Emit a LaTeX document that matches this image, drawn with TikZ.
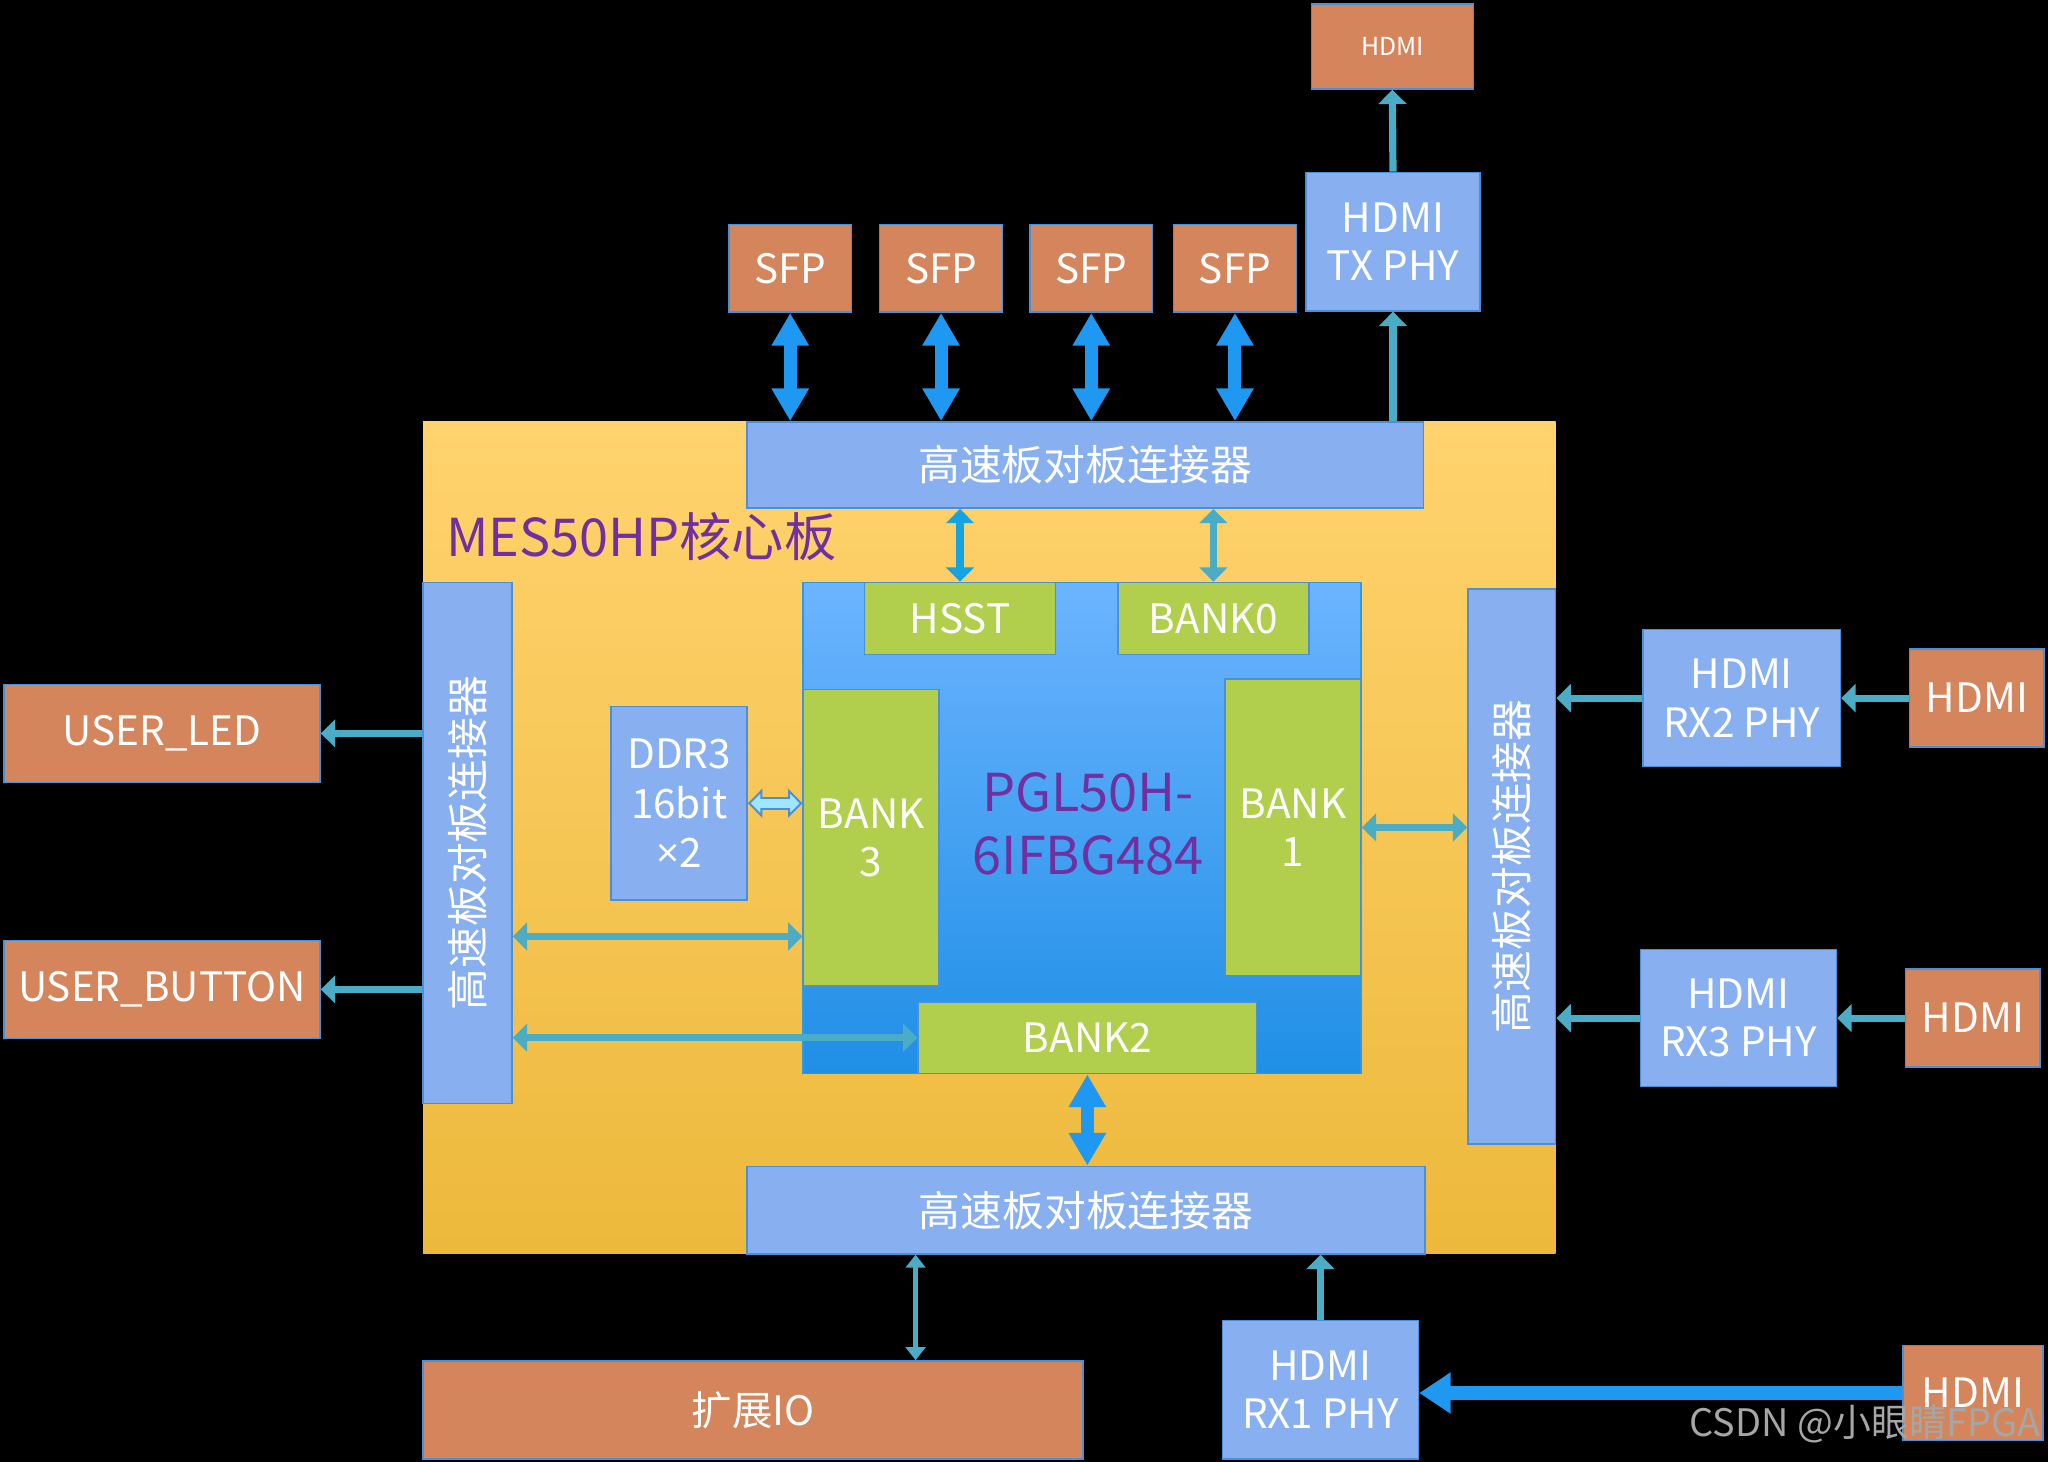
\documentclass[tikz,border=0pt]{standalone}
\usepackage{fontspec}
\setmainfont{Noto Sans CJK SC}
\newfontfamily\symfont{Open Sans}
\usepackage{tikz}
\usetikzlibrary{calc,arrows.meta,positioning}
\definecolor{boxline}{HTML}{4A90D9}
\definecolor{orangex}{HTML}{D4855B}
\definecolor{bluex}{HTML}{88AFF0}
\definecolor{greenx}{HTML}{B1CF4C}
\definecolor{tealx}{HTML}{4BACC6}
\definecolor{deepblue}{HTML}{1E98F0}
\definecolor{hsstblue}{HTML}{14A4E4}
\definecolor{purplex}{HTML}{7030A0}
\definecolor{boardtop}{HTML}{FFD36E}
\definecolor{boardbot}{HTML}{EDB93C}
\definecolor{chiptop}{HTML}{6CB4FF}
\definecolor{chipbot}{HTML}{1F8FE6}
\definecolor{chipline}{HTML}{2E9AE6}
\definecolor{ddrfill}{HTML}{A0E6FF}
\definecolor{markgrey}{HTML}{A6A6A6}
\tikzset{
  blk/.style={draw=boxline,line width=1.2pt,text=white,inner sep=0pt,align=center},
  orng/.style={blk,fill=orangex},
  lblue/.style={blk,fill=bluex},
  bank/.style={blk,fill=greenx},
  lat/.style={font=\fontsize{31}{37}\selectfont},
  han/.style={font=\fontsize{32}{38}\selectfont},
  ar/.style={tealx,line width=5.5pt,-{Triangle[length=11pt,width=21pt]}},
  biar/.style={tealx,line width=5.5pt,{Triangle[length=11pt,width=21pt]}-{Triangle[length=11pt,width=21pt]}},
  thinar/.style={line width=4pt,{Triangle[length=10pt,width=15pt]}-{Triangle[length=10pt,width=15pt]}},
  fatar/.style={deepblue,line width=10pt,{Triangle[length=25pt,width=27pt]}-{Triangle[length=25pt,width=27pt]}},
  rxar/.style={deepblue,line width=11pt,-{Triangle[length=24pt,width=30pt]}}
}
\begin{document}
\begin{tikzpicture}[x=1pt,y=-1pt]
\path[use as bounding box,fill=black] (0,0) rectangle (1568,1119);
% core board
\node[top color=boardtop,bottom color=boardbot,minimum width=867pt,minimum height=637pt,inner sep=0pt] (board) at (757.5,641.5) {};
\node[text=purplex,anchor=west,font=\fontsize{40}{48}\selectfont] (title) at (338,411) {MES50HP核心板};
\node[lblue,han,minimum width=518pt,minimum height=66pt] (contop) at (831,356) {高速板对板连接器};
\node[lblue,han,minimum width=519pt,minimum height=67pt] (conbot) at (831.5,926.5) {高速板对板连接器};
\node[lblue,minimum width=68pt,minimum height=399pt] (conleft) at (358,645.5) {};
\node[lblue,minimum width=67pt,minimum height=425pt] (conright) at (1157.5,663.5) {};
\node[han,text=white,rotate=90] (conlefttxt) at (conleft) {高速板对板连接器};
\node[han,text=white,rotate=90] (conrighttxt) at (conright) {高速板对板连接器};
% FPGA
\node[draw=chipline,line width=1.2pt,top color=chiptop,bottom color=chipbot,minimum width=427pt,minimum height=376pt,inner sep=0pt] (chip) at (828.5,634) {};
\node[bank,lat,minimum width=146pt,minimum height=55pt] (hsst) at (735,473.5) {HSST};
\node[bank,lat,minimum width=146pt,minimum height=55pt] (bankzero) at (929,473.5) {BANK0};
\node[bank,lat,minimum width=104pt,minimum height=227pt] (bankthree) at (667,641.5) {BANK\\3};
\node[bank,lat,minimum width=104pt,minimum height=227pt] (bankone) at (990,633.5) {BANK\\1};
\node[bank,lat,minimum width=259pt,minimum height=55pt] (banktwo) at (832.5,794.5) {BANK2};
\node[text=purplex,align=center,font=\fontsize{40}{48}\selectfont] (fpga) at (833,631) {PGL50H-\\6IFBG484};
\node[lblue,lat,font=\fontsize{31}{38}\selectfont,minimum width=104pt,minimum height=148pt] (ddr) at (520,615) {DDR3\\16bit\\{\symfont ×}2};
% outside parts
\node[orng,lat,minimum width=242pt,minimum height=75pt] (led) at (124,561.5) {USER\_LED};
\node[orng,lat,minimum width=242pt,minimum height=75pt] (button) at (124,757.5) {USER\_BUTTON};
\node[orng,lat,minimum width=505pt,minimum height=75pt] (extio) at (576.5,1079.5) {扩展IO};
\node[lblue,lat,minimum width=150pt,minimum height=106pt] (rxone) at (1011,1064) {HDMI\\RX1 PHY};
\node[orng,lat,minimum width=107pt,minimum height=73pt] (hdmione) at (1510.5,1066.5) {HDMI};
\node[lblue,lat,minimum width=151pt,minimum height=105pt] (rxtwo) at (1333.5,534.5) {HDMI\\RX2 PHY};
\node[orng,lat,minimum width=103pt,minimum height=75pt] (hdmitwo) at (1513.5,534.5) {HDMI};
\node[lblue,lat,minimum width=150pt,minimum height=105pt] (rxthree) at (1331,779.5) {HDMI\\RX3 PHY};
\node[orng,lat,minimum width=103pt,minimum height=75pt] (hdmithree) at (1510.5,779.5) {HDMI};
\node[lblue,lat,minimum width=133pt,minimum height=106pt] (txphy) at (1066.5,185) {HDMI\\TX PHY};
\node[orng,font=\fontsize{19}{23}\selectfont,minimum width=124pt,minimum height=65pt] (hdmiout) at (1066,35.5) {HDMI};
\foreach \i/\x in {1/605,2/720.5,3/835.5,4/945.5}{
  \node[orng,lat,minimum width=94pt,minimum height=67pt] (sfp\i) at (\x,205.5) {SFP};
  \draw[fatar] (sfp\i.south) -- (sfp\i.south |- contop.north);
}
% links
\draw[ar] (txphy.north) -- (hdmiout.south);
\draw[ar] (txphy.south |- contop.north) -- (txphy.south);
\draw[biar,hsstblue] (hsst.north |- contop.south) -- (hsst.north);
\draw[biar] (bankzero.north |- contop.south) -- (bankzero.north);
\draw[ar] (conleft.west |- led.east) -- (led.east);
\draw[ar] (conleft.west |- button.east) -- (button.east);
\coordinate (bthreelow) at ($(bankthree.west)+(0,75.5)$);
\draw[biar] (conleft.east |- bthreelow) -- (bthreelow);
\draw[biar] (conleft.east |- banktwo.west) -- (banktwo.west);
\draw[biar] (bankone.east) -- (conright.west |- bankone.east);
\draw[ar] (hdmitwo.west) -- (rxtwo.east);
\draw[ar] (rxtwo.west) -- (conright.east |- rxtwo.west);
\draw[ar] (hdmithree.west) -- (rxthree.east);
\draw[ar] (rxthree.west) -- (conright.east |- rxthree.west);
\draw[fatar] (banktwo.south) -- (banktwo.south |- conbot.north);
\coordinate (extiotop) at ($(extio.north)+(124.5,0)$);
\draw[biar,thinar] (extiotop) -- (extiotop |- conbot.south);
\draw[ar] (rxone.north) -- (rxone.north |- conbot.south);
\draw[rxar] (hdmione.west) -- (rxone.east |- hdmione.west);
% ddr link
\draw[boxline,line width=10pt,{Triangle[length=11pt,width=22pt,fill=ddrfill,line width=1.5pt]}-{Triangle[length=11pt,width=22pt,fill=ddrfill,line width=1.5pt]}] (ddr.east) -- (bankthree.west |- ddr.east);
\draw[ddrfill,line width=7pt,shorten <=9pt,shorten >=9pt] (ddr.east) -- (bankthree.west |- ddr.east);
\node[text=markgrey,anchor=east,font=\fontsize{29}{34}\selectfont] (mark) at (1566,1090) {CSDN @小眼睛FPGA};
\end{tikzpicture}
\end{document}
